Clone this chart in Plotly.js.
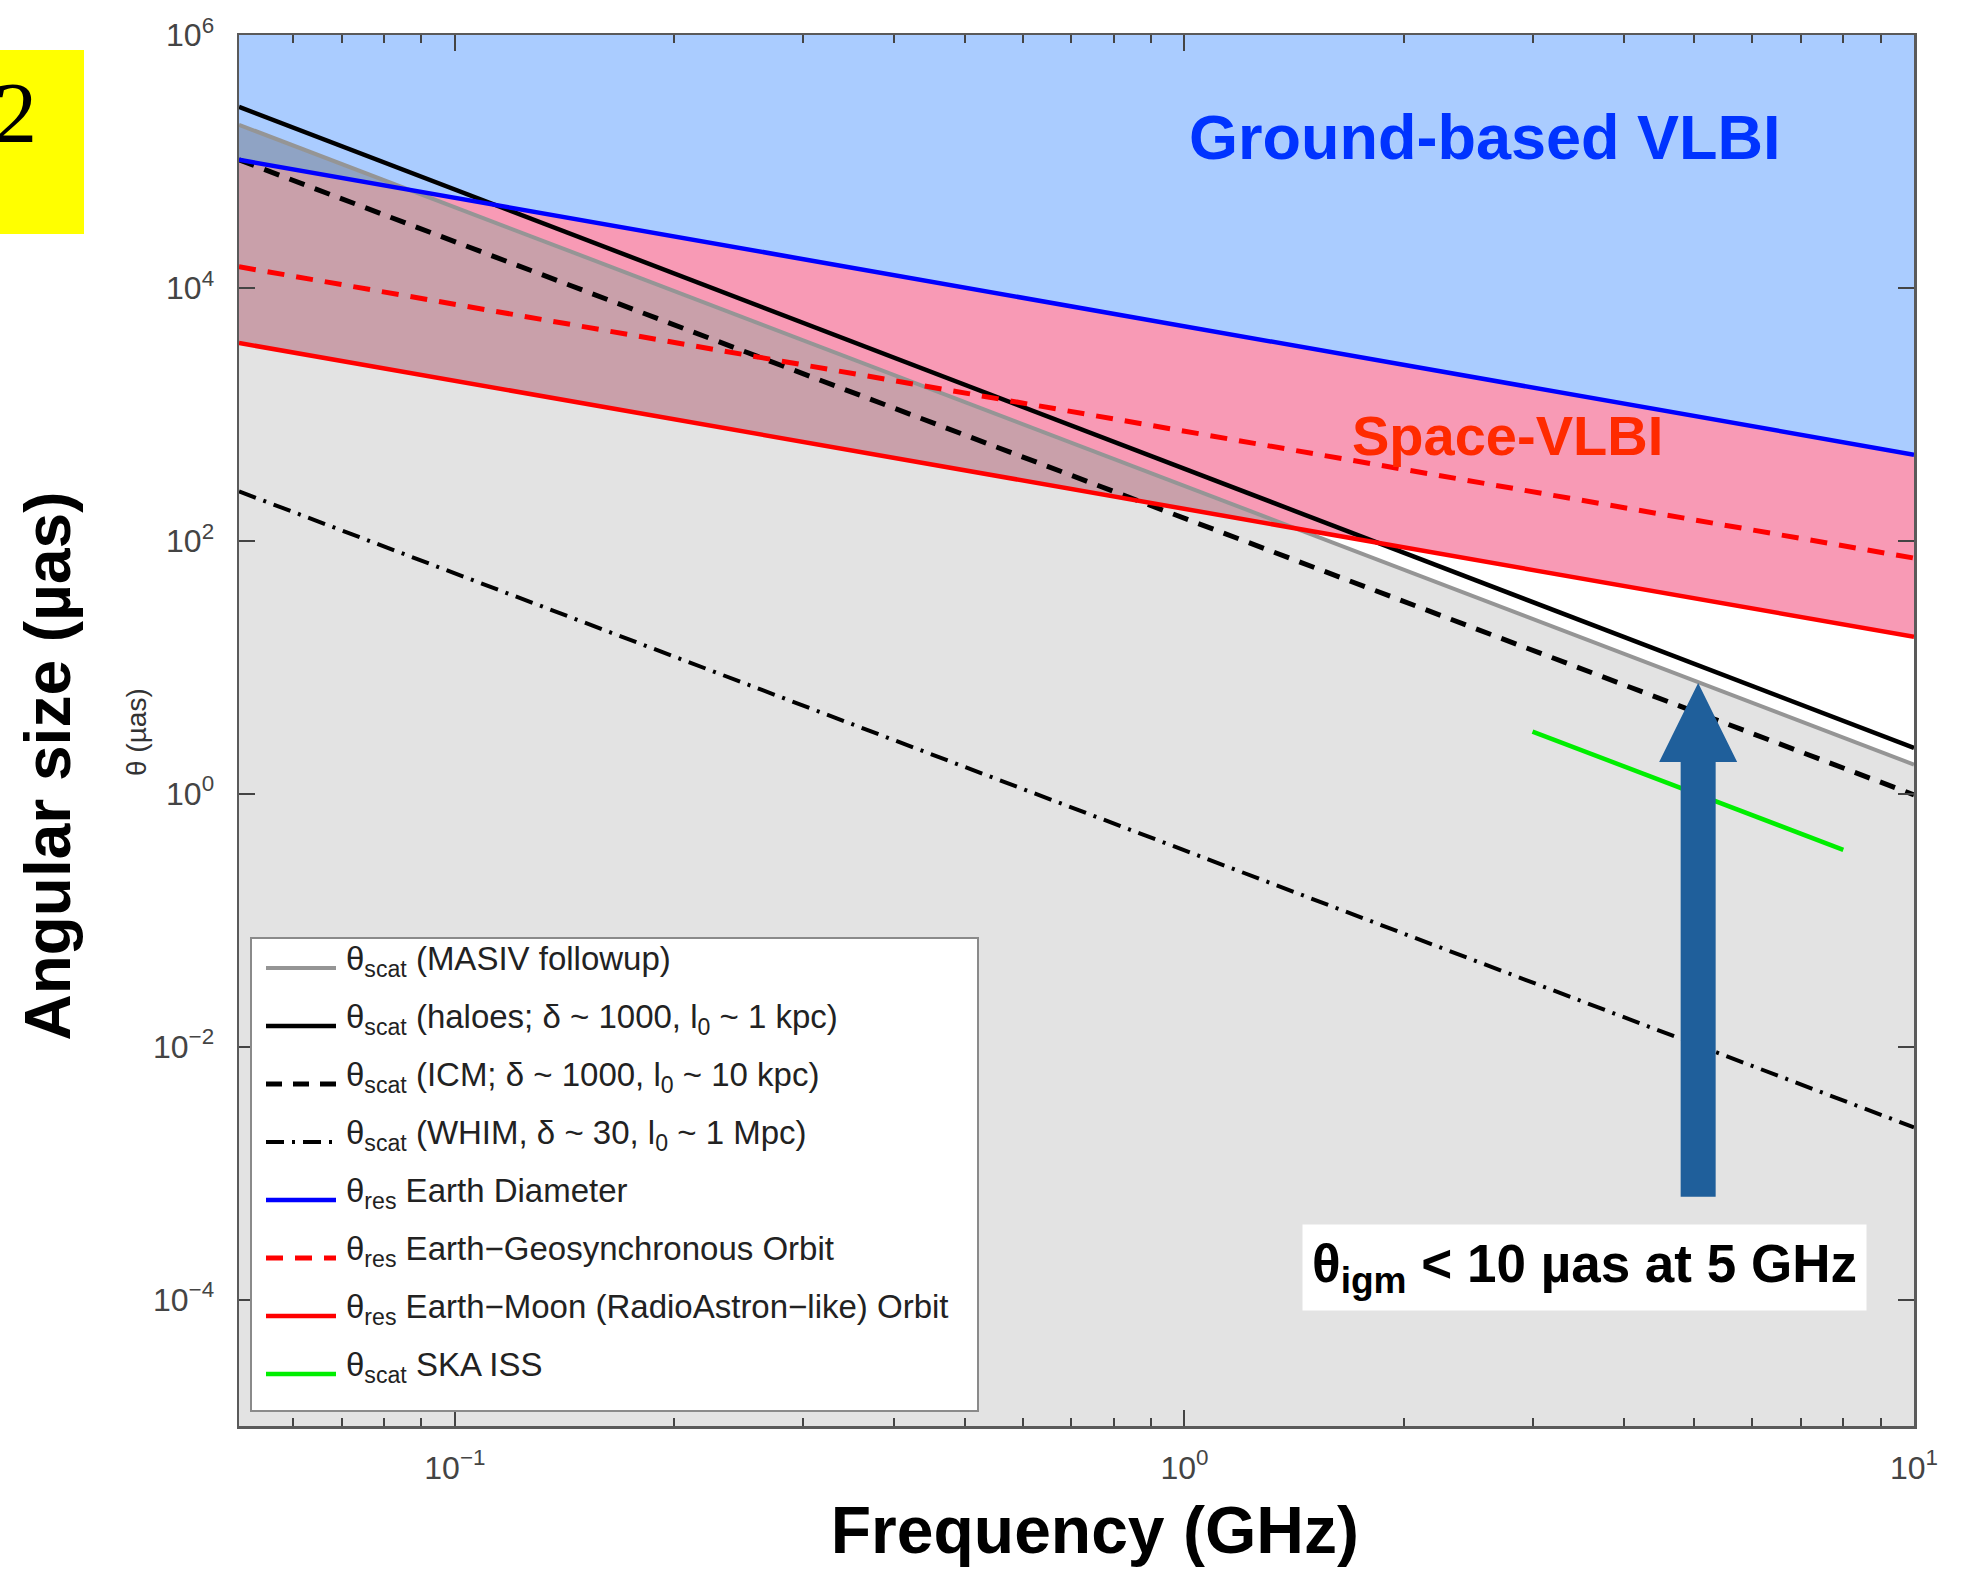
<!DOCTYPE html>
<html>
<head>
<meta charset="utf-8">
<script src="https://cdn.plot.ly/plotly-3.0.1.min.js"></script>
<style>
html,body{margin:0;padding:0;background:#ffffff;}
#chart{width:1966px;height:1570px;}
</style>
</head>
<body>
<div id="chart"></div>
<script>
// ---------------- data ----------------
// frequencies (GHz) at the left and right edges of the plot where each line was read
const freqEnds = [0.0506, 10];
// angular sizes (micro-arcsec) at those two frequencies (straight lines in log-log)
const thetaMASIV = [1.95e5, 1.7];
const thetaHaloes = [2.7e5, 2.3];
const thetaICM = [1.03e5, 0.98];
const thetaWHIM = [246, 2.3e-3];
const thetaEarthDiam = [1.03e5, 480];
const thetaGeoOrbit = [1.47e4, 73];
const thetaMoonOrbit = [3670, 17.4];
// SKA interstellar scattering segment
const freqSKA = [3, 8];
const thetaSKA = [3.1, 0.36];
// arrow marking theta_igm at 5 GHz
const arrowFreq = 5.06;
const arrowTipTheta = 7.5;
const arrowBaseTheta = 6.5e-4;
// axis extents
const thetaTop = 1e6;
const thetaBottom = 1e-5;
// tick labels
const yTickVals = [1e-4, 1e-2, 1, 1e2, 1e4, 1e6];
const yTickText = ['10<sup>\u22124</sup>', '10<sup>\u22122</sup>', '10<sup>0</sup>', '10<sup>2</sup>', '10<sup>4</sup>', '10<sup>6</sup>'];
const xTickVals = [0.1, 1, 10];
const xTickText = ['10<sup>\u22121</sup>', '10<sup>0</sup>', '10<sup>1</sup>'];
const xMinorTickVals = [0.06, 0.07, 0.08, 0.09, 0.2, 0.3, 0.4, 0.5, 0.6, 0.7, 0.8, 0.9, 2, 3, 4, 5, 6, 7, 8, 9];
const legendLabels = [
  '\u03b8<sub>scat</sub> (MASIV followup)',
  '\u03b8<sub>scat</sub> (haloes; \u03b4 ~ 1000, l<sub>0</sub> ~ 1 kpc)',
  '\u03b8<sub>scat</sub> (ICM; \u03b4 ~ 1000, l<sub>0</sub> ~ 10 kpc)',
  '\u03b8<sub>scat</sub> (WHIM, \u03b4 ~ 30, l<sub>0</sub> ~ 1 Mpc)',
  '\u03b8<sub>res</sub> Earth Diameter',
  '\u03b8<sub>res</sub> Earth\u2212Geosynchronous Orbit',
  '\u03b8<sub>res</sub> Earth\u2212Moon (RadioAstron\u2212like) Orbit',
  '\u03b8<sub>scat</sub> SKA ISS'
];

// ---------------- layout geometry ----------------
const W = 1966, H = 1570;
const L = 239, R = 1914, T = 35, B = 1426;
const xr = [Math.log10(freqEnds[0]), Math.log10(freqEnds[1])];
const yr = [Math.log10(thetaBottom), Math.log10(thetaTop)];
const px2x = px => (px - L) / (R - L);
const py2y = py => (B - py) / (B - T);
const f2x = f => (Math.log10(f) - xr[0]) / (xr[1] - xr[0]);
const t2y = t => (Math.log10(t) - yr[0]) / (yr[1] - yr[0]);

// intersection of two straight log-log lines defined on freqEnds
function cross(a, b) {
  const lx0 = Math.log10(freqEnds[0]), lx1 = Math.log10(freqEnds[1]);
  const la0 = Math.log10(a[0]), la1 = Math.log10(a[1]);
  const lb0 = Math.log10(b[0]), lb1 = Math.log10(b[1]);
  const t = (la0 - lb0) / ((la0 - lb0) - (la1 - lb1));
  return [Math.pow(10, lx0 + t * (lx1 - lx0)), Math.pow(10, la0 + t * (la1 - la0))];
}

const FONT = 'Liberation Sans, Arial, Helvetica, sans-serif';
const NB = '\u00a0';

// ---------------- fills ----------------
const xL = freqEnds[0], xR = freqEnds[1];
const cEG = cross(thetaEarthDiam, thetaMASIV);
const cGM = cross(thetaMASIV, thetaMoonOrbit);
function fillTrace(xs, ys, color) {
  return {type: 'scatter', mode: 'lines', x: xs, y: ys, fill: 'toself', fillcolor: color,
          line: {width: 0, color: color}, hoverinfo: 'skip', showlegend: false};
}
const fills = [
  // ground-based VLBI region (above Earth diameter)
  fillTrace([xL, xR, xR, xL], [thetaEarthDiam[0], thetaEarthDiam[1], thetaTop, thetaTop], '#aaccff'),
  // space VLBI region (between Earth diameter and Earth-Moon)
  fillTrace([xL, xR, xR, xL], [thetaEarthDiam[0], thetaEarthDiam[1], thetaMoonOrbit[1], thetaMoonOrbit[0]], '#f89ab5'),
  // scattering region (below MASIV line)
  fillTrace([xL, xR, xR, xL], [thetaMASIV[0], thetaMASIV[1], thetaBottom, thetaBottom], '#e3e3e3'),
  // overlap: ground region and scattering region
  fillTrace([xL, xL, cEG[0]], [thetaEarthDiam[0], thetaMASIV[0], cEG[1]], '#8fa3c4'),
  // overlap: space region and scattering region
  fillTrace([xL, cEG[0], cGM[0], xL], [thetaEarthDiam[0], cEG[1], cGM[1], thetaMoonOrbit[0]], '#c9a0aa')
];

// ---------------- lines ----------------
const series = [
  {name: 'MASIV followup', x: freqEnds, y: thetaMASIV, color: '#959595', width: 4, dash: 'solid'},
  {name: 'haloes', x: freqEnds, y: thetaHaloes, color: '#000000', width: 4.5, dash: 'solid'},
  {name: 'ICM', x: freqEnds, y: thetaICM, color: '#000000', width: 5, dash: '16px,11px'},
  {name: 'WHIM', x: freqEnds, y: thetaWHIM, color: '#000000', width: 4, dash: '18px,8px,3px,8px'},
  {name: 'Earth Diameter', x: freqEnds, y: thetaEarthDiam, color: '#0000ff', width: 4.5, dash: 'solid'},
  {name: 'Earth-Geosynchronous Orbit', x: freqEnds, y: thetaGeoOrbit, color: '#ff0000', width: 5, dash: '17px,12px'},
  {name: 'Earth-Moon Orbit', x: freqEnds, y: thetaMoonOrbit, color: '#ff0000', width: 4.5, dash: 'solid'},
  {name: 'SKA ISS', x: freqSKA, y: thetaSKA, color: '#00ee00', width: 4.5, dash: 'solid'}
];
const lineTraces = series.map(s => ({
  type: 'scatter', mode: 'lines', x: s.x, y: s.y, name: s.name,
  line: {color: s.color, width: s.width, dash: s.dash}, showlegend: false
}));

// ---------------- shapes ----------------
const shapes = [];
// slide-number box
shapes.push({type: 'rect', xref: 'paper', yref: 'paper', x0: px2x(0), x1: px2x(84), y0: py2y(234), y1: py2y(50),
             fillcolor: '#ffff00', line: {width: 0}, layer: 'above'});
// arrow
(function () {
  const cx = f2x(arrowFreq), yt = t2y(arrowTipTheta), yb = t2y(arrowBaseTheta);
  const sw = 17.5 / (R - L), hw = 39 / (R - L), yh = yt - 79 / (B - T);
  shapes.push({type: 'path', xref: 'paper', yref: 'paper', layer: 'above',
    path: `M${cx - sw},${yb} L${cx - sw},${yh} L${cx - hw},${yh} L${cx},${yt} L${cx + hw},${yh} L${cx + sw},${yh} L${cx + sw},${yb} Z`,
    fillcolor: '#1f5f9b', line: {width: 0}});
})();
// legend box
shapes.push({type: 'rect', xref: 'paper', yref: 'paper', x0: px2x(251), x1: px2x(978), y0: py2y(1411), y1: py2y(938),
             fillcolor: '#ffffff', line: {color: '#8a8a8a', width: 2}, layer: 'above'});
const annotations = [];
series.forEach((s, i) => {
  const ly = 968 + 58 * i;
  shapes.push({type: 'line', xref: 'paper', yref: 'paper', layer: 'above',
               x0: px2x(266), x1: px2x(336), y0: py2y(ly), y1: py2y(ly),
               line: {color: s.color, width: s.width, dash: s.dash}});
  annotations.push({xref: 'paper', yref: 'paper', x: px2x(344), y: py2y(ly - 7), xanchor: 'left', yanchor: 'middle',
                    text: legendLabels[i], showarrow: false, font: {family: FONT, size: 33, color: '#222222'}});
});

// ---------------- text annotations ----------------
annotations.push(
  {xref: 'paper', yref: 'paper', x: px2x(1485), y: py2y(137), xanchor: 'center', yanchor: 'middle', showarrow: false,
   text: '<b>Ground-based VLBI</b>', font: {family: FONT, size: 63, color: '#0033ff'}},
  {xref: 'paper', yref: 'paper', x: px2x(1507), y: py2y(435), xanchor: 'center', yanchor: 'middle', showarrow: false,
   text: '<b>Space-VLBI</b>', font: {family: FONT, size: 56, color: '#ff2a00'}},
  {xref: 'paper', yref: 'paper', x: px2x(1584), y: py2y(1267), xanchor: 'center', yanchor: 'middle', showarrow: false,
   text: '<b>\u03b8<sub>igm</sub> &lt; 10 \u00b5as at 5 GHz</b>', font: {family: FONT, size: 53, color: '#000000'},
   bgcolor: '#ffffff', borderpad: 9},
  {xref: 'paper', yref: 'paper', x: px2x(136), y: py2y(732), xanchor: 'center', yanchor: 'middle', showarrow: false,
   textangle: -90, text: '\u03b8 (\u00b5as)', font: {family: FONT, size: 28, color: '#333333'}},
  {xref: 'paper', yref: 'paper', x: px2x(-8), y: py2y(113), xanchor: 'left', yanchor: 'middle', showarrow: false,
   text: '2', font: {family: 'Liberation Serif, Times New Roman, serif', size: 86, color: '#000000'}}
);

// ---------------- layout ----------------
const axisCommon = {
  type: 'log', showgrid: false, zeroline: false, showline: true, linecolor: '#5a5a5a', linewidth: 2.5,
  mirror: 'ticks', ticks: 'inside', ticklen: 16, tickwidth: 2, tickcolor: '#444444',
  tickmode: 'array', automargin: false,
  tickfont: {family: FONT, size: 32, color: '#444444'}
};
const layout = {
  width: W, height: H,
  margin: {l: L, r: W - R, t: T, b: H - B, pad: 0},
  paper_bgcolor: '#ffffff', plot_bgcolor: '#ffffff',
  showlegend: false,
  xaxis: Object.assign({}, axisCommon, {
    range: xr, tickvals: xTickVals, ticktext: xTickText, ticklabelstandoff: 12,
    minor: {tickmode: 'array', tickvals: xMinorTickVals, ticks: 'inside', ticklen: 8, tickwidth: 2, tickcolor: '#444444'},
    title: {text: '<b>' + NB + NB + 'Frequency (GHz)</b>', font: {family: FONT, size: 66, color: '#000000'}, standoff: 22}
  }),
  yaxis: Object.assign({}, axisCommon, {
    range: yr, tickvals: yTickVals, ticktext: yTickText, ticklabelstandoff: 16,
    title: {text: '<b>Angular size (\u00b5as)' + NB + NB + NB + NB + '</b>', font: {family: FONT, size: 64, color: '#000000'}, standoff: 62}
  }),
  shapes: shapes,
  annotations: annotations
};

Plotly.newPlot('chart', fills.concat(lineTraces), layout, {staticPlot: true, displayModeBar: false});
</script>
</body>
</html>
